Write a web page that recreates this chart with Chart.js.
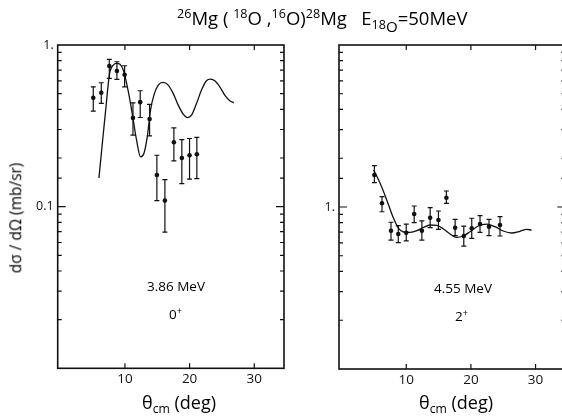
<!DOCTYPE html>
<html>
<head>
<meta charset="utf-8">
<script src="https://cdn.jsdelivr.net/npm/chart.js@4/dist/chart.umd.min.js"></script>
<style>
  html, body { margin:0; padding:0; background:#fff; overflow:hidden; width:562px; height:416px; }
  body { position:relative; font-family:"Open Sans","DejaVu Sans",sans-serif; color:#000; }
  canvas { position:absolute; top:0; }
  .t { position:absolute; white-space:nowrap; line-height:1; }
  sup { font-size:0.68em; vertical-align:0.55em; }
  sub { font-size:0.68em; vertical-align:-0.3em; }
</style>
</head>
<body>
<canvas id="cL" width="300" height="416" style="left:0px"></canvas>
<canvas id="cR" width="300" height="416" style="left:290px"></canvas>

<div class="t" style="left:177px;top:8px;font-size:18.5px;"><sup>26</sup>Mg ( <sup>18</sup>O ,<sup>16</sup>O)<sup>28</sup>Mg &nbsp; E<sub>18<span style="font-size:1.2em;position:relative;top:3px">O</span></sub>=50MeV</div>
<div class="t" style="left:16px;top:218px;font-size:15.5px;transform:translate(-50%,-50%) rotate(-90deg);transform-origin:center;">dσ / dΩ (mb/sr)</div>
<div class="t" style="left:142px;top:393px;font-size:18px;">θ<sub>cm</sub> (deg)</div>
<div class="t" style="left:419px;top:393px;font-size:18px;">θ<sub>cm</sub> (deg)</div>
<div class="t" style="left:147px;top:280px;font-size:13.5px;">3.86 MeV</div>
<div class="t" style="left:169px;top:306px;font-size:13.5px;">0<sup>+</sup></div>
<div class="t" style="left:434px;top:282px;font-size:13.5px;">4.55 MeV</div>
<div class="t" style="left:455px;top:308px;font-size:13.5px;">2<sup>+</sup></div>

<script>
// ---------- data: left panel, 3.86 MeV 0+ ----------
const thetaL  = [5.10, 6.34, 7.58, 8.76, 9.95, 11.24, 12.36, 13.81, 14.94, 16.18, 17.57, 18.80, 19.99, 21.12];
const sigL    = [0.471, 0.506, 0.741, 0.690, 0.655, 0.354, 0.443, 0.348, 0.157, 0.109, 0.250, 0.200, 0.208, 0.211];
const sigLHi  = [0.551, 0.584, 0.815, 0.788, 0.744, 0.439, 0.521, 0.429, 0.208, 0.147, 0.307, 0.260, 0.264, 0.268];
const sigLLo  = [0.390, 0.435, 0.622, 0.613, 0.551, 0.277, 0.356, 0.274, 0.109, 0.0696, 0.192, 0.139, 0.148, 0.149];
const curveThetaL = [5.98, 6.55, 7.07, 7.43, 7.68, 8.20, 8.71, 9.23, 9.74, 10.26, 10.77, 11.29, 11.80, 12.42, 12.93, 13.45, 13.96, 14.48, 15.15, 15.92, 16.69, 17.46, 18.24, 19.01, 19.68, 20.30, 21.07, 21.84, 22.61, 23.23, 23.90, 24.67, 25.44, 26.22, 26.83];
const curveSigL   = [0.1505, 0.2576, 0.4147, 0.5787, 0.6834, 0.7516, 0.7698, 0.7590, 0.6998, 0.5787, 0.4560, 0.3428, 0.2576, 0.2031, 0.2130, 0.2702, 0.3954, 0.4898, 0.5649, 0.5870, 0.5649, 0.5018, 0.4246, 0.3735, 0.3559, 0.3681, 0.4349, 0.5261, 0.6011, 0.6156, 0.6011, 0.5515, 0.4898, 0.4517, 0.4390];

// ---------- data: right panel, 4.55 MeV 2+ ----------
const thetaR  = [5.07, 6.25, 7.64, 8.77, 10.0, 11.23, 12.42, 13.70, 14.98, 16.21, 17.56, 18.90, 20.13, 21.41, 22.80, 24.50];
const sigR    = [1.576, 1.054, 0.714, 0.681, 0.694, 0.905, 0.714, 0.859, 0.831, 1.141, 0.745, 0.662, 0.739, 0.785, 0.756, 0.774];
const sigRHi  = [1.798, 1.158, 0.805, 0.767, 0.785, 1.014, 0.820, 0.990, 0.945, 1.255, 0.839, 0.763, 0.852, 0.884, 0.839, 0.871];
const sigRLo  = [1.413, 0.935, 0.625, 0.602, 0.617, 0.800, 0.625, 0.745, 0.728, 1.054, 0.665, 0.574, 0.641, 0.698, 0.665, 0.662];
const curveThetaR = [4.96, 5.73, 6.50, 7.27, 8.04, 8.81, 9.58, 10.62, 11.65, 12.68, 13.70, 14.73, 15.76, 16.78, 17.71, 18.83, 19.87, 21.15, 22.44, 23.72, 25.00, 26.30, 27.58, 28.61, 29.38];
const curveSigR   = [1.692, 1.468, 1.243, 1.029, 0.851, 0.738, 0.701, 0.698, 0.714, 0.749, 0.774, 0.770, 0.732, 0.681, 0.650, 0.662, 0.704, 0.763, 0.785, 0.756, 0.711, 0.691, 0.708, 0.728, 0.721];

// ---------- tick labels ----------
const xTickValues = [10, 20, 30];
const yLabelsL = { 1: '1.', 0.1: '0.1' };
const yLabelsR = { 1: '1.' };

const INK = '#111';

const framePlugin = {
  id: 'frameTicks',
  afterDraw(chart) {
    const { ctx, chartArea: a, scales: { x, y } } = chart;
    ctx.save();
    ctx.strokeStyle = INK;
    ctx.lineWidth = 1.6;
    ctx.strokeRect(a.left, a.top, a.right - a.left, a.bottom - a.top);
    ctx.lineWidth = 1.2;
    ctx.beginPath();
    y.ticks.forEach(t => {
      const py = y.getPixelForValue(t.value);
      if (py < a.top + 1 || py > a.bottom - 1) return;
      const m = Math.log10(t.value);
      const major = Math.abs(m - Math.round(m)) < 1e-6;
      const len = major ? 8 : 4;
      ctx.moveTo(a.left, py); ctx.lineTo(a.left + len, py);
      ctx.moveTo(a.right, py); ctx.lineTo(a.right - len, py);
    });
    xTickValues.forEach(v => {
      const px = x.getPixelForValue(v);
      ctx.moveTo(px, a.bottom); ctx.lineTo(px, a.bottom - 5);
      ctx.moveTo(px, a.top); ctx.lineTo(px, a.top + 5);
    });
    ctx.stroke();
    ctx.restore();
  }
};

const errorBarPlugin = {
  id: 'errorBars',
  afterDatasetsDraw(chart) {
    const o = chart.options.plugins.errorBars;
    const { ctx, scales: { x, y } } = chart;
    ctx.save();
    ctx.strokeStyle = INK;
    ctx.lineWidth = 1.2;
    ctx.beginPath();
    o.theta.forEach((t, i) => {
      const px = x.getPixelForValue(t);
      const yh = y.getPixelForValue(o.hi[i]);
      const yl = y.getPixelForValue(o.lo[i]);
      ctx.moveTo(px, yh); ctx.lineTo(px, yl);
      ctx.moveTo(px - 2.5, yh); ctx.lineTo(px + 2.5, yh);
      ctx.moveTo(px - 2.5, yl); ctx.lineTo(px + 2.5, yl);
    });
    ctx.stroke();
    ctx.restore();
  }
};

function makeChart(id, cfg) {
  const curve = cfg.curveTheta.map((t, i) => ({ x: t, y: cfg.curveSig[i] }));
  const pts = cfg.theta.map((t, i) => ({ x: t, y: cfg.sig[i] }));
  return new Chart(document.getElementById(id), {
    type: 'scatter',
    data: {
      datasets: [
        { data: curve, showLine: true, borderColor: INK, borderWidth: 1.3, pointRadius: 0,
          cubicInterpolationMode: 'monotone', fill: false },
        { data: pts, showLine: false, pointRadius: 2.3, backgroundColor: INK, borderColor: INK, borderWidth: 0 }
      ]
    },
    options: {
      responsive: false, animation: false, events: [],
      layout: { padding: { left: 0, top: 45, right: cfg.padRight, bottom: 0 } },
      plugins: {
        legend: { display: false }, tooltip: { enabled: false },
        errorBars: { theta: cfg.theta, hi: cfg.hi, lo: cfg.lo }
      },
      scales: {
        x: {
          type: 'linear', min: -0.4, max: 34.6,
          afterBuildTicks: s => { s.ticks = xTickValues.map(v => ({ value: v })); },
          grid: { display: false, drawTicks: false, tickLength: 0 },
          border: { display: false },
          ticks: { color: INK, padding: 3, font: { family: 'Open Sans', size: 13.5 }, autoSkip: false, maxRotation: 0 },
          afterFit: s => { s.height = cfg.xAxisH; }
        },
        y: {
          type: 'logarithmic', min: cfg.ymin, max: cfg.ymax,
          grid: { display: false, drawTicks: false, tickLength: 0 },
          border: { display: false },
          ticks: {
            color: INK, padding: 4, font: { family: 'Open Sans', size: 12.5 }, autoSkip: false,
            callback: v => { for (const k in cfg.yLabels) { if (Math.abs(v - Number(k)) < 1e-9) return cfg.yLabels[k]; } return ''; }
          },
          afterFit: s => { s.width = cfg.yAxisW; }
        }
      }
    },
    plugins: [errorBarPlugin, framePlugin]
  });
}

makeChart('cL', {
  theta: thetaL, sig: sigL, hi: sigLHi, lo: sigLLo,
  curveTheta: curveThetaL, curveSig: curveSigL,
  ymin: 0.01, ymax: 1, yLabels: yLabelsL,
  yAxisW: 57.7, xAxisH: 47.7, padRight: 16
});
makeChart('cR', {
  theta: thetaR, sig: sigR, hi: sigRHi, lo: sigRLo,
  curveTheta: curveThetaR, curveSig: curveSigR,
  ymin: 0.1, ymax: 10, yLabels: yLabelsR,
  yAxisW: 49, xAxisH: 47, padRight: 24.7
});
</script>
</body>
</html>
